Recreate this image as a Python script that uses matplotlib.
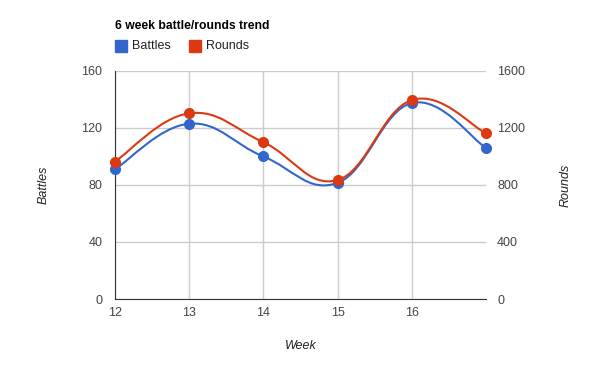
import matplotlib
matplotlib.use("Agg")
import matplotlib.pyplot as plt
from matplotlib.path import Path
from matplotlib.patches import PathPatch, Rectangle
import numpy as np

weeks = [12, 13, 14, 15, 16, 17]
battles = [91, 123, 100, 81.5, 137.5, 106]
rounds = [964, 1303, 1100, 835, 1396, 1163]
xticks = [12, 13, 14, 15, 16]
left_ticks = [0, 40, 80, 120, 160]
right_ticks = [0, 400, 800, 1200, 1600]

BLUE = "#3366cc"
RED = "#dc3912"
FONT = "Liberation Sans"

plt.rcParams['font.family'] = [FONT, 'DejaVu Sans']

fig = plt.figure(figsize=(6, 3.71), dpi=100)
ax = fig.add_axes([115/600, 1-299/371, 371/600, 228/371])
ax2 = ax.twinx()

def smooth_path(xs, ys, k=0.2):
    xs = np.asarray(xs, float); ys = np.asarray(ys, float)
    n = len(xs)
    verts = [(xs[0], ys[0])]
    codes = [Path.MOVETO]
    for i in range(n - 1):
        xp = xs[i-1] if i > 0 else xs[i]
        yp = ys[i-1] if i > 0 else ys[i]
        xn2 = xs[i+2] if i + 2 < n else xs[i+1]
        yn2 = ys[i+2] if i + 2 < n else ys[i+1]
        c1 = (xs[i] + k*(xs[i+1]-xp), ys[i] + k*(ys[i+1]-yp))
        c2 = (xs[i+1] - k*(xn2-xs[i]), ys[i+1] - k*(yn2-ys[i]))
        verts += [c1, c2, (xs[i+1], ys[i+1])]
        codes += [Path.CURVE4]*3
    return Path(verts, codes)

ax.set_xlim(12, 17)
ax.set_ylim(0, 160)
ax2.set_ylim(0, 1600)

ax.add_patch(PathPatch(smooth_path(weeks, battles), facecolor='none', edgecolor=BLUE, lw=1.5, zorder=3, clip_on=False))
ax.plot(weeks, battles, 'o', color=BLUE, ms=7, zorder=4, clip_on=False)
ax2.add_patch(PathPatch(smooth_path(weeks, rounds), facecolor='none', edgecolor=RED, lw=1.5, zorder=3, clip_on=False))
ax2.plot(weeks, rounds, 'o', color=RED, ms=7, zorder=4, clip_on=False)

ax.set_xticks(xticks)
ax.set_yticks(left_ticks)
ax2.set_yticks(right_ticks)
ax.grid(True, color="#cccccc", lw=1)
ax.set_axisbelow(True)
for a in (ax, ax2):
    for s in a.spines.values():
        s.set_visible(False)
    a.tick_params(length=0, colors="#444444", labelsize=9)
ax.spines['left'].set_visible(True)
ax.spines['left'].set_color("#333333")
ax.spines['bottom'].set_visible(True)
ax.spines['bottom'].set_color("#333333")
ax.tick_params(axis='y', pad=9)
ax.tick_params(axis='x', pad=6)
ax2.tick_params(axis='y', pad=8)

ax.set_xlabel("Week", style='italic', fontsize=9, color="#222222", labelpad=15)
ax.set_ylabel("Battles", style='italic', fontsize=9, color="#222222", labelpad=23)
ax2.set_ylabel("Rounds", style='italic', fontsize=9, color="#222222", labelpad=25)

fig.text(115/600, 1-26/371, "6 week battle/rounds trend", fontsize=8.7, fontweight='bold', va='center', ha='left', color="#000000")
fig.patches.append(Rectangle((115/600, 1-52/371), 12/600, 12/371, transform=fig.transFigure, color=BLUE, figure=fig))
fig.text(132/600, 1-46/371, "Battles", fontsize=9, va='center', ha='left', color="#222222")
fig.patches.append(Rectangle((189/600, 1-52/371), 12/600, 12/371, transform=fig.transFigure, color=RED, figure=fig))
fig.text(206/600, 1-46/371, "Rounds", fontsize=9, va='center', ha='left', color="#222222")

fig.savefig("out.png", dpi=100, facecolor='white')
